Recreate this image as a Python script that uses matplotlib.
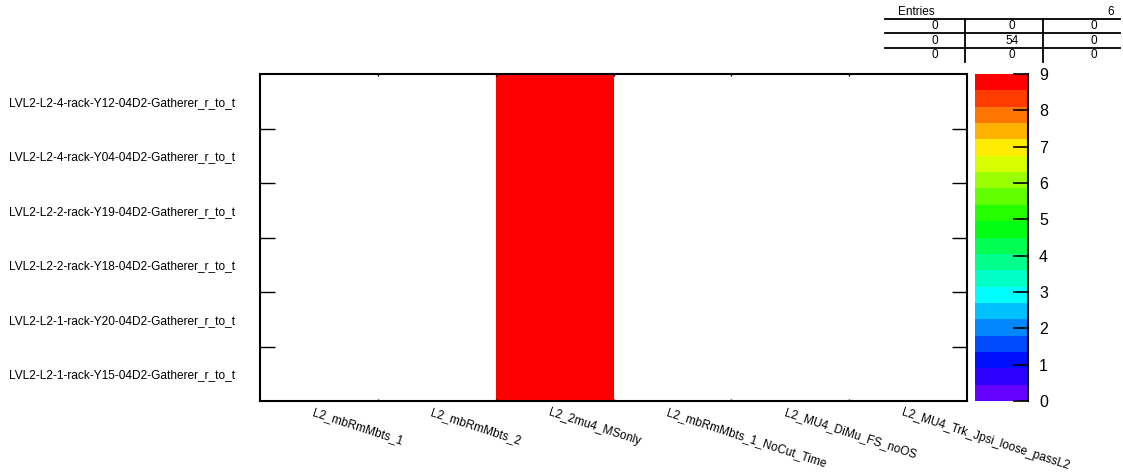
import numpy as np
import matplotlib
matplotlib.use("Agg")
import matplotlib.pyplot as plt
from matplotlib.colors import ListedColormap, BoundaryNorm, hsv_to_rgb
from matplotlib.lines import Line2D
from matplotlib.transforms import ScaledTranslation

plt.rcParams['font.family'] = ['Liberation Sans', 'DejaVu Sans']

chains = ["L2_mbRmMbts_1", "L2_mbRmMbts_2", "L2_2mu4_MSonly",
          "L2_mbRmMbts_1_NoCut_Time", "L2_MU4_DiMu_FS_noOS",
          "L2_MU4_Trk_Jpsi_loose_passL2"]
racks = ["LVL2-L2-1-rack-Y15-04D2-Gatherer_r_to_t",
         "LVL2-L2-1-rack-Y20-04D2-Gatherer_r_to_t",
         "LVL2-L2-2-rack-Y18-04D2-Gatherer_r_to_t",
         "LVL2-L2-2-rack-Y19-04D2-Gatherer_r_to_t",
         "LVL2-L2-4-rack-Y04-04D2-Gatherer_r_to_t",
         "LVL2-L2-4-rack-Y12-04D2-Gatherer_r_to_t"]
# counts[rack][chain]
counts = np.array([
    [0, 0, 9, 0, 0, 0],
    [0, 0, 9, 0, 0, 0],
    [0, 0, 9, 0, 0, 0],
    [0, 0, 9, 0, 0, 0],
    [0, 0, 9, 0, 0, 0],
    [0, 0, 9, 0, 0, 0],
])
entries = 6
# under/overflow table of the stats box
stats_table = [[0, 0, 0],
               [0, 54, 0],
               [0, 0, 0]]

z_max = 9
n_levels = 20

# rainbow palette, violet -> red
hues = np.linspace(264, 0, n_levels) / 360.0
pal = hsv_to_rgb(np.column_stack([hues, np.ones(n_levels), np.ones(n_levels)]))
cmap = ListedColormap(pal)
cmap.set_over(pal[-1])
cmap.set_bad((1, 1, 1, 0))
levels = np.linspace(0, z_max, n_levels + 1)
norm = BoundaryNorm(levels, n_levels)

W, H = 1123, 474
fig = plt.figure(figsize=(W / 100, H / 100), dpi=100)
ax = fig.add_axes([260 / W, 1 - 401 / H, 707 / W, 327 / H])
cax = fig.add_axes([975 / W, 1 - 401 / H, 53 / W, 327 / H])

nx, ny = len(chains), len(racks)
data = np.ma.masked_equal(counts, 0)
mesh = ax.pcolormesh(np.arange(nx + 1), np.arange(ny + 1), data,
                     cmap=cmap, norm=norm)
ax.set_xlim(0, nx)
ax.set_ylim(0, ny)

for s in ax.spines.values():
    s.set_linewidth(1.5)

# labels at bin centres, tick marks at bin edges
ax.set_xticks(np.arange(nx) + 0.5)
ax.set_xticklabels(chains, fontsize=8.6, rotation=-18, ha='left', va='top',
                   rotation_mode='anchor')
ax.set_yticks(np.arange(ny) + 0.5)
ax.set_yticklabels(racks, fontsize=8.6, ha='left')
ax.tick_params(axis='x', which='major', length=0, pad=4)
ax.tick_params(axis='y', which='major', length=0, pad=181)
off = ScaledTranslation(-4 / 100, 0, fig.dpi_scale_trans)
for lbl in ax.get_xticklabels():
    lbl.set_transform(lbl.get_transform() + off)

ax.set_xticks(np.arange(1, nx), minor=True)
ax.set_yticks(np.arange(1, ny), minor=True)
ax.tick_params(axis='x', which='minor', direction='in', length=1.5,
               top=True, bottom=True, width=1)
ax.tick_params(axis='y', which='minor', direction='in', length=11,
               left=True, right=True, width=1)

cb = fig.colorbar(mesh, cax=cax, ticks=np.arange(0, z_max + 1),
                  extend='neither')
cb.outline.set_visible(False)
cax.spines['right'].set_visible(True)
cax.spines['right'].set_linewidth(1.5)
cax.tick_params(direction='in', length=11, width=1.2, labelsize=11.5, pad=8)
cax.minorticks_off()

# stats box
def fx(px):
    return px / W

def fy(py):
    return 1 - py / H

for y in (19, 33, 48):
    fig.add_artist(Line2D([fx(885), fx(1120)], [fy(y), fy(y)],
                          color='black', lw=1.3))
for x in (965, 1043):
    fig.add_artist(Line2D([fx(x), fx(x)], [fy(19), fy(62)],
                          color='black', lw=1.3))
fig.text(fx(898), fy(12), "Entries", fontsize=8.5, va='center', ha='left')
fig.text(fx(1114), fy(12), str(entries), fontsize=8.5, va='center', ha='right')
col_x = (935, 1012, 1094)
row_y = (26, 40.5, 55)
for r, row in enumerate(stats_table):
    for c, v in enumerate(row):
        fig.text(fx(col_x[c]), fy(row_y[r]), str(v), fontsize=8.5,
                 va='center', ha='center')

fig.savefig("out.png", dpi=100)
